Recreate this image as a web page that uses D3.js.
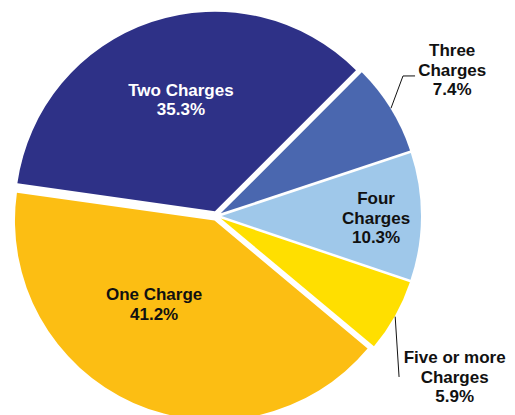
<!DOCTYPE html>
<html>
<head>
<meta charset="utf-8"/>
<title>Number of charges</title>
<script src="https://d3js.org/d3.v7.min.js"></script>
<style>
  body { margin: 0; background: #fff; }
  .label {
    font-family: "Liberation Sans", Arial, sans-serif;
    font-weight: bold;
    font-size: 17px;
  }
  .leader { fill: none; stroke: #111; stroke-width: 1; }
</style>
</head>
<body>
<div id="chart"></div>
<script>
// slices, clockwise starting at ~45deg (upper right)
var categories = ["Three Charges", "Four Charges", "Five or more Charges", "One Charge", "Two Charges"];
var values = [7.4, 10.3, 5.9, 41.2, 35.3];
var labelLines = [["Three", "Charges"], ["Four", "Charges"], ["Five or more", "Charges"], ["One Charge"], ["Two Charges"]];
var colors = ["#4a67af", "#9fc8ea", "#ffdf00", "#fcbe13", "#2e3187"];
var textColors = ["#111", "#111", "#111", "#111", "#fff"];

// label placement: [angle in degrees, radius as fraction of R]
var labelPos = [[58.2, 1.39], [90.5, 0.80], [124, 1.44], [215.4, 0.54], [-17, 0.61]];
// leader lines for outside labels: polar points [angle, fraction of R]
var leaders = [
    {slice: 0, pts: [[58.3, 1.028], [53.1, 1.169], [54.8, 1.218]]},
    {slice: 2, pts: [[119.4, 1.028], [131.4, 1.22]]}
];

var width = 515, height = 415;
var cx = 216.5, cy = 216, R = 199.5, explode = 5;
var lineH = 19.5;
var rad = Math.PI / 180;

var svg = d3.select("#chart")
    .append("svg")
    .attr("width", width)
    .attr("height", height);

var g = svg.append("g")
    .attr("transform", "translate(" + cx + "," + cy + ")");

var pie = d3.pie()
    .sort(null)
    .value(function(d){ return d; })
    .startAngle(45 * rad)
    .endAngle(45 * rad + 2 * Math.PI);

var arc = d3.arc()
    .innerRadius(0)
    .outerRadius(R);

var arcs = pie(values);

function polar(a, r){
    return [r * Math.sin(a * rad), -r * Math.cos(a * rad)];
}

g.selectAll(".slice")
    .data(arcs)
    .enter()
    .append("path")
    .attr("class", "slice")
    .attr("d", arc)
    .attr("fill", function(d, i){ return colors[i]; })
    .attr("transform", function(d){
        var mid = (d.startAngle + d.endAngle) / 2;
        return "translate(" + (explode * Math.sin(mid)) + "," + (-explode * Math.cos(mid)) + ")";
    });

var line = d3.line();
g.selectAll(".leader")
    .data(leaders)
    .enter()
    .append("path")
    .attr("class", "leader")
    .attr("d", function(d){
        return line(d.pts.map(function(p){ return polar(p[0], p[1] * R); }));
    });

var fmt = d3.format(".1f");
arcs.forEach(function(d, i){
    var lines = labelLines[i].concat([fmt(values[i]) + "%"]);
    var p = polar(labelPos[i][0], labelPos[i][1] * R);
    var y0 = p[1] - (lines.length - 1) * lineH / 2 + 6.1;
    var t = g.append("text")
        .attr("class", "label")
        .attr("text-anchor", "middle")
        .attr("fill", textColors[i]);
    lines.forEach(function(s, k){
        t.append("tspan")
            .attr("x", p[0])
            .attr("y", y0 + k * lineH)
            .text(s);
    });
});
</script>
</body>
</html>
